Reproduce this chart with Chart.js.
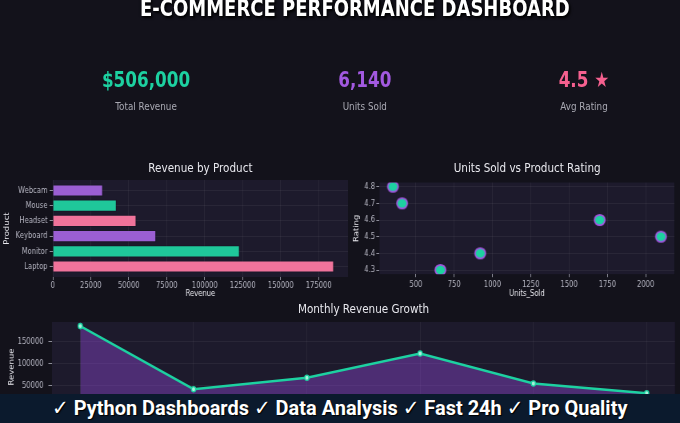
<!DOCTYPE html>
<html>
<head>
<meta charset="utf-8">
<script src="https://cdn.jsdelivr.net/npm/chart.js@4.4.1/dist/chart.umd.min.js"></script>
<style>
  html, body { margin:0; padding:0; background:#13121b; width:680px; height:423px; overflow:hidden; }
  #stage { position:absolute; left:0; top:0; width:850px; height:423px; transform:scaleX(0.8); transform-origin:0 0; font-family:'DejaVu Sans', sans-serif; }
  .t { position:absolute; white-space:nowrap; line-height:1.164; text-align:center; width:500px; }
  .cv { position:absolute; }
  #banner { position:absolute; left:0; top:394px; width:680px; height:29px; background:#0b1a2d; z-index:5; overflow:hidden; }
  #bannerText { position:absolute; left:0; top:1.5px; font-family:Roboto, 'DejaVu Sans', sans-serif; font-weight:700; font-size:21px; line-height:1.171; color:#ffffff; white-space:nowrap; transform-origin:0 0; text-shadow:1px 1px 1px #000; }
</style>
</head>
<body>
<div id="stage">
  <div class="t" id="title" style="left:175px; top:-5.4px; font-size:22.5px; font-weight:bold; color:#ffffff; text-shadow:0 0 3px #000, 2px 2px 3px #000;"></div>
  <canvas id="barChart" class="cv" width="440" height="145" style="left:0; top:155px;"></canvas>
  <canvas id="scatterChart" class="cv" width="410" height="145" style="left:440px; top:155px;"></canvas>
  <canvas id="lineChart" class="cv" width="850" height="123" style="left:0; top:300px;"></canvas>
</div>
<div id="banner"><span id="bannerText"></span></div>
<script>
// ---------- data ----------
const dashboardTitle = 'E-COMMERCE PERFORMANCE DASHBOARD';
const kpiValues = ['$506,000', '6,140', '4.5 ★'];
const kpiLabels = ['Total Revenue', 'Units Sold', 'Avg Rating'];

const products = ['Laptop', 'Monitor', 'Keyboard', 'Headset', 'Mouse', 'Webcam'];
const productRevenue = [185000, 123000, 68000, 55000, 42000, 33000];
const revenueTicks = [0, 25000, 50000, 75000, 100000, 125000, 150000, 175000];

const unitsSold = [350, 410, 1700, 2100, 920, 660];
const ratings = [4.8, 4.7, 4.6, 4.5, 4.4, 4.3];
const unitTicks = [500, 750, 1000, 1250, 1500, 1750, 2000];
const ratingTicks = [4.3, 4.4, 4.5, 4.6, 4.7, 4.8];

const months = ['Jan', 'Feb', 'Mar', 'Apr', 'May', 'Jun'];
const monthlyRevenue = [185000, 42000, 68000, 123000, 55000, 33000];
const monthlyTicks = [0, 50000, 100000, 150000];

const chartTitles = ['Revenue by Product', 'Units Sold vs Product Rating', 'Monthly Revenue Growth'];
const bannerLine = '✓ Python Dashboards  ✓ Data Analysis  ✓ Fast 24h  ✓ Pro Quality';

// ---------- styles ----------
const kpiColors = ['#1dd1a1', '#a259e0', '#f5608f'];
const barColors = ['#f0739b', '#1fc79a', '#9b5fd3', '#f0739b', '#1fc79a', '#9b5fd3'];
const PLOT_BG = '#1d1a2c';
const TICK_COLOR = '#b4b4c0';
const TITLE_COLOR = '#e8e8ee';
const GRID = 'rgba(255,255,255,0.055)';
const TICKMARK = '#8c8c98';
const SX = 0.8;

// ---------- html text ----------
const stage = document.getElementById('stage');
document.getElementById('title').textContent = dashboardTitle;
const kpiCenters = [182.5, 456, 730];
kpiValues.forEach((v, i) => {
  const d = document.createElement('div');
  d.className = 't';
  d.style.cssText = `left:${kpiCenters[i]-250}px; top:68px; font-size:21px; font-weight:bold; color:${kpiColors[i]};`;
  d.textContent = v;
  stage.appendChild(d);
  const l = document.createElement('div');
  l.className = 't';
  l.style.cssText = `left:${kpiCenters[i]-250}px; top:100.8px; font-size:11px; color:#a9a9b3;`;
  l.textContent = kpiLabels[i];
  stage.appendChild(l);
});
const subCenters = [[250.5, 160.2], [659, 160.2], [454.4, 300.7]];
chartTitles.forEach((t, i) => {
  const d = document.createElement('div');
  d.className = 't';
  d.style.cssText = `left:${subCenters[i][0]-250}px; top:${subCenters[i][1]}px; font-size:13px; color:${TITLE_COLOR};`;
  d.textContent = t;
  stage.appendChild(d);
});
const bt = document.getElementById('bannerText');
bt.textContent = bannerLine;
function fitBanner() {
  const w = bt.scrollWidth;
  const target = 575;
  const s = target / w;
  bt.style.transform = `scaleX(${s})`;
  bt.style.left = (339.5 - target / 2) + 'px';
}
fitBanner();
if (document.fonts && document.fonts.ready) document.fonts.ready.then(fitBanner);

// ---------- chart.js ----------
Chart.defaults.font.family = "'DejaVu Sans', sans-serif";
Chart.defaults.font.size = 8.5;
Chart.defaults.color = TICK_COLOR;

const plotBg = {
  id: 'plotBg',
  beforeDraw(chart) {
    const { ctx, chartArea: a } = chart;
    ctx.save();
    ctx.fillStyle = PLOT_BG;
    ctx.fillRect(a.left, a.top, a.right - a.left, a.bottom - a.top);
    ctx.restore();
  }
};

function setTicks(values) {
  return (axis) => { axis.ticks = values.map(v => ({ value: v })); };
}
function gridOpts(tickLength) {
  return { color: GRID, tickColor: TICKMARK, tickLength: tickLength, drawTicks: true, lineWidth: 1, offset: false };
}
function axisTitle(text, pad) {
  return { display: true, text: text, color: TITLE_COLOR, font: { size: 8.5 }, padding: pad };
}

// Bar chart: Revenue by Product
new Chart(document.getElementById('barChart'), {
  type: 'bar',
  data: {
    datasets: [{
      data: productRevenue.map((v, i) => ({ x: v, y: i })),
      backgroundColor: barColors,
      borderColor: 'rgba(20,18,30,0.35)',
      borderWidth: 1,
      barPercentage: 0.8,
      categoryPercentage: 1
    }]
  },
  plugins: [plotBg],
  options: {
    indexAxis: 'y',
    responsive: false,
    animation: false,
    layout: { padding: { left: 0, right: 5, top: 25, bottom: 0 } },
    plugins: { legend: { display: false }, tooltip: { enabled: false } },
    scales: {
      x: {
        type: 'linear', min: 0, max: 194250, offset: false,
        afterBuildTicks: setTicks(revenueTicks),
        afterFit: (s) => { s.height = 23; },
        grid: gridOpts(3),
        border: { display: false },
        ticks: { autoSkip: false, maxRotation: 0, padding: 0.5, color: TICK_COLOR, callback: (v) => String(v) },
        title: axisTitle('Revenue', { top: 0, bottom: 1.4 })
      },
      y: {
        type: 'linear', min: -0.69, max: 5.69, offset: false,
        afterBuildTicks: setTicks(products.map((p, i) => i)),
        afterFit: (s) => { s.width = 66; },
        grid: gridOpts(4),
        border: { display: false },
        ticks: { autoSkip: false, padding: 2.5, color: TICK_COLOR, callback: (v) => products[v] },
        title: axisTitle('Product', { top: 4, bottom: 0 })
      }
    }
  }
});

// Scatter: Units Sold vs Rating
function ellipseMarker(r, fill, stroke, lw, sx) {
  const c = document.createElement('canvas');
  const rx = r / sx, ry = r;
  c.width = Math.ceil(2 * (rx + lw)) + 2;
  c.height = Math.ceil(2 * (ry + lw)) + 2;
  const g = c.getContext('2d');
  g.beginPath();
  g.ellipse(c.width / 2, c.height / 2, rx, ry, 0, 0, Math.PI * 2);
  g.fillStyle = fill; g.fill();
  g.lineWidth = lw; g.strokeStyle = stroke; g.stroke();
  return c;
}
const marker = ellipseMarker(5.2, '#1dd1a1', '#a259e0', 1.8, SX);

new Chart(document.getElementById('scatterChart'), {
  type: 'scatter',
  data: {
    datasets: [{
      data: unitsSold.map((u, i) => ({ x: u, y: ratings[i] })),
      pointStyle: marker,
      pointRadius: 6
    }]
  },
  plugins: [plotBg],
  options: {
    responsive: false,
    animation: false,
    layout: { padding: { left: 0, right: 6.25, top: 27.5, bottom: 0 } },
    plugins: { legend: { display: false }, tooltip: { enabled: false } },
    scales: {
      x: {
        type: 'linear', min: 262.5, max: 2187.5,
        afterBuildTicks: setTicks(unitTicks),
        afterFit: (s) => { s.height = 25.8; },
        grid: gridOpts(3),
        border: { display: false },
        ticks: { autoSkip: false, maxRotation: 0, padding: 2, color: TICK_COLOR, callback: (v) => String(v) },
        title: axisTitle('Units_Sold', { top: 0, bottom: 0.9 })
      },
      y: {
        type: 'linear', min: 4.275, max: 4.825,
        afterBuildTicks: setTicks(ratingTicks),
        afterFit: (s) => { s.width = 34.4; },
        grid: gridOpts(4),
        border: { display: false },
        ticks: { autoSkip: false, padding: 1.6, color: TICK_COLOR, callback: (v) => Number(v).toFixed(1) },
        title: axisTitle('Rating', { top: 0.8, bottom: 0 })
      }
    }
  }
});

// Line: Monthly Revenue Growth
new Chart(document.getElementById('lineChart'), {
  type: 'line',
  data: {
    datasets: [{
      data: monthlyRevenue.map((v, i) => ({ x: i, y: v })),
      borderColor: '#1dd1a1',
      borderWidth: 2.6,
      backgroundColor: 'rgba(145,72,215,0.42)',
      fill: 'origin',
      tension: 0,
      pointRadius: 2.6,
      pointBorderWidth: 1.4,
      pointBackgroundColor: '#a8f2dc',
      pointBorderColor: '#1dd1a1'
    }]
  },
  plugins: [plotBg],
  options: {
    responsive: false,
    animation: false,
    layout: { padding: { left: 0, right: 6.25, top: 22, bottom: 0 } },
    plugins: { legend: { display: false }, tooltip: { enabled: false } },
    scales: {
      x: {
        type: 'linear', min: -0.25, max: 5.25,
        afterBuildTicks: setTicks(months.map((m, i) => i)),
        afterFit: (s) => { s.height = 8; },
        grid: gridOpts(3),
        border: { display: false },
        ticks: { autoSkip: false, maxRotation: 0, padding: 0.5, color: TICK_COLOR, callback: (v) => months[v] }
      },
      y: {
        type: 'linear', min: -9250, max: 194250,
        afterBuildTicks: setTicks(monthlyTicks),
        afterFit: (s) => { s.width = 65; },
        grid: gridOpts(4.5),
        border: { display: false },
        ticks: { autoSkip: false, padding: 6, color: TICK_COLOR, callback: (v) => String(v) },
        title: axisTitle('Revenue', { top: 9.5, bottom: 0 })
      }
    }
  }
});
</script>
</body>
</html>
